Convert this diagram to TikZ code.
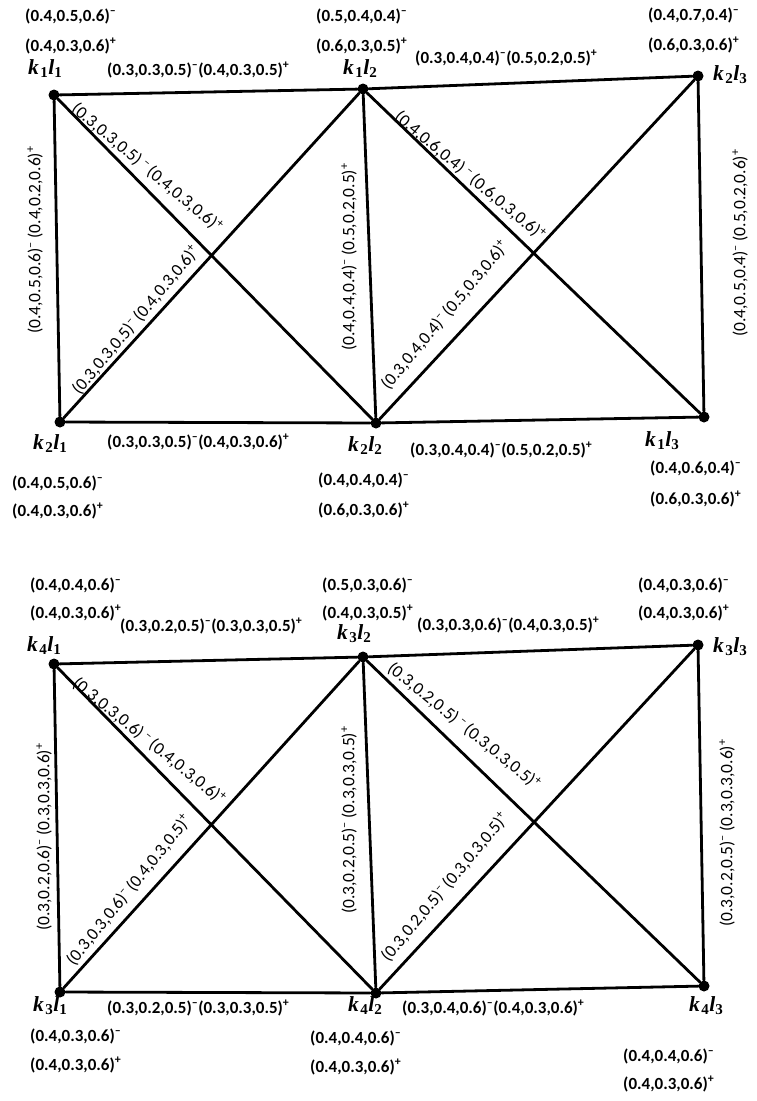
\documentclass[tikz,border=0pt]{standalone}
\usepackage{fontspec}
\setmainfont{Carlito}
\newfontfamily\nodefont{Liberation Serif}
\newcommand{\SupM}{\textsuperscript{–}}
\newcommand{\SupP}{\textsuperscript{+}}
\newcommand{\KL}[2]{{\nodefont\bfseries\itshape k\kern1.5pt\textsubscript{\upshape #1}l\textsubscript{\upshape #2}}}
\begin{document}
\begin{tikzpicture}[x=1pt,y=-1pt,
  edge/.style={line width=2.8pt, line cap=round},
  dot/.style={circle, fill=black, inner sep=0pt, minimum size=11pt},
  lab/.style={font=\fontsize{17}{20}\selectfont\bfseries, anchor=base west, inner sep=0pt},
  elab/.style={font=\fontsize{17.5}{20}\selectfont, inner sep=0pt},
  vname/.style={font=\fontsize{21.5}{24}\selectfont, anchor=base west, inner sep=0pt}]
\useasboundingbox (0,0) rectangle (756,1101);

% ---------- top panel ----------
\node[dot] (a11) at (54,95) {};
\node[dot] (a12) at (363,89) {};
\node[dot] (a23) at (698,76) {};
\node[dot] (a21) at (60,422) {};
\node[dot] (a22) at (376,423) {};
\node[dot] (a13) at (704,417) {};

\draw[edge] (a11) -- (a12);
\draw[edge] (a12) -- (a23);
\draw[edge] (a21) -- (a22);
\draw[edge] (a22) -- (a13);
\draw[edge] (a11) -- (a21);
\draw[edge] (a12) -- (a22);
\draw[edge] (a23) -- (a13);
\draw[edge] (a11) -- (a22);
\draw[edge] (a21) -- (a12);
\draw[edge] (a12) -- (a13);
\draw[edge] (a22) -- (a23);

\node[lab] (t1) at (25,21) {(0.4,0.5,0.6)\SupM};
\node[lab] (t2) at (25,51) {(0.4,0.3,0.6)\SupP};
\node[vname] (n11) at (28,74) {\KL{1}{1}};
\node[lab] (e1) at (107,75) {(0.3,0.3,0.5)\SupM(0.4,0.3,0.5)\SupP};
\node[lab] (t3) at (316,21) {(0.5,0.4,0.4)\SupM};
\node[lab] (t4) at (316,51) {(0.6,0.3,0.5)\SupP};
\node[vname] (n12) at (343,74) {\KL{1}{2}};
\node[lab] (e2) at (415,63) {(0.3,0.4,0.4)\SupM(0.5,0.2,0.5)\SupP};
\node[lab] (t5) at (648,20) {(0.4,0.7,0.4)\SupM};
\node[lab] (t6) at (648,50) {(0.6,0.3,0.6)\SupP};
\node[vname] (n23) at (713,80) {\KL{2}{3}};

\node[vname] (n21) at (33,449) {\KL{2}{1}};
\node[lab] (e3) at (107,447) {(0.3,0.3,0.5)\SupM(0.4,0.3,0.6)\SupP};
\node[lab] (t7) at (12,488) {(0.4,0.5,0.6)\SupM};
\node[lab] (t8) at (12,516) {(0.4,0.3,0.6)\SupP};
\node[vname] (n22) at (348,451) {\KL{2}{2}};
\node[lab] (e4) at (410,455) {(0.3,0.4,0.4)\SupM(0.5,0.2,0.5)\SupP};
\node[lab] (t9) at (318,485) {(0.4,0.4,0.4)\SupM};
\node[lab] (t10) at (318,515) {(0.6,0.3,0.6)\SupP};
\node[vname] (n13) at (645,446) {\KL{1}{3}};
\node[lab] (t11) at (650,473) {(0.4,0.6,0.4)\SupM};
\node[lab] (t12) at (650,504) {(0.6,0.3,0.6)\SupP};

\node[elab, rotate=90] (v1) at (35,240) {(0.4,0.5,0.6)\SupM\,(0.4,0.2,0.6)\SupP};
\node[elab, rotate=90] (v2) at (349,257) {(0.4,0.4,0.4)\SupM\,(0.5,0.2,0.5)\SupP};
\node[elab, rotate=90] (v3) at (740,243) {(0.4,0.5,0.4)\SupM\,(0.5,0.2,0.6)\SupP};
\node[elab, rotate=-40] (d1) at (147,168) {(0.3,0.3,0.5)\,\SupM\,(0.4,0.3,0.6)\SupP};
\node[elab, rotate=50] (d2) at (136,320) {(0.3,0.3,0.5)\SupM\,(0.4,0.3,0.6)\SupP};
\node[elab, rotate=-40] (d3) at (470,176) {(0.4,0.6,0.4)\,\SupM\,(0.6,0.3,0.6)\SupP};
\node[elab, rotate=50] (d4) at (445,315) {(0.3,0.4,0.4)\SupM\,(0.5,0.3,0.6)\SupP};

% ---------- bottom panel ----------
\node[dot] (b41) at (54,664) {};
\node[dot] (b32) at (363,657) {};
\node[dot] (b33) at (698,645) {};
\node[dot] (b31) at (60,992) {};
\node[dot] (b42) at (376,993) {};
\node[dot] (b43) at (704,986) {};

\draw[edge] (b41) -- (b32);
\draw[edge] (b32) -- (b33);
\draw[edge] (b31) -- (b42);
\draw[edge] (b42) -- (b43);
\draw[edge] (b41) -- (b31);
\draw[edge] (b32) -- (b42);
\draw[edge] (b33) -- (b43);
\draw[edge] (b41) -- (b42);
\draw[edge] (b31) -- (b32);
\draw[edge] (b32) -- (b43);
\draw[edge] (b42) -- (b33);

\node[lab] (s1) at (30,590) {(0.4,0.4,0.6)\SupM};
\node[lab] (s2) at (30,618) {(0.4,0.3,0.6)\SupP};
\node[vname] (m41) at (27,651) {\KL{4}{1}};
\node[lab] (f1) at (120,631) {(0.3,0.2,0.5)\SupM(0.3,0.3,0.5)\SupP};
\node[lab] (s3) at (322,590) {(0.5,0.3,0.6)\SupM};
\node[lab] (s4) at (322,618) {(0.4,0.3,0.5)\SupP};
\node[vname] (m32) at (337,639) {\KL{3}{2}};
\node[lab] (f2) at (417,630) {(0.3,0.3,0.6)\SupM(0.4,0.3,0.5)\SupP};
\node[lab] (s5) at (638,590) {(0.4,0.3,0.6)\SupM};
\node[lab] (s6) at (638,618) {(0.4,0.3,0.6)\SupP};
\node[vname] (m33) at (713,652) {\KL{3}{3}};

\node[vname] (m31) at (33,1011) {\KL{3}{1}};
\node[lab] (f3) at (107,1013) {(0.3,0.2,0.5)\SupM(0.3,0.3,0.5)\SupP};
\node[lab] (s7) at (30,1041) {(0.4,0.3,0.6)\SupM};
\node[lab] (s8) at (30,1070) {(0.4,0.3,0.6)\SupP};
\node[vname] (m42) at (348,1011) {\KL{4}{2}};
\node[lab] (f4) at (402,1013) {(0.3,0.4,0.6)\SupM(0.4,0.3,0.6)\SupP};
\node[lab] (s9) at (310,1043) {(0.4,0.4,0.6)\SupM};
\node[lab] (s10) at (310,1072) {(0.4,0.3,0.6)\SupP};
\node[vname] (m43) at (689,1011) {\KL{4}{3}};
\node[lab] (s11) at (623,1061) {(0.4,0.4,0.6)\SupM};
\node[lab] (s12) at (623,1089) {(0.4,0.3,0.6)\SupP};

\node[elab, rotate=90] (w1) at (44,837) {(0.3,0.2,0.6)\SupM\,(0.3,0.3,0.6)\SupP};
\node[elab, rotate=90] (w2) at (349,820) {(0.3,0.2,0.5)\SupM\,(0.3,0.3,0.5)\SupP};
\node[elab, rotate=90] (w3) at (727,833) {(0.3,0.2,0.5)\SupM\,(0.3,0.3,0.6)\SupP};
\node[elab, rotate=-39] (g1) at (149,741) {(0.3,0.3,0.6)\,\SupM\,(0.4,0.3,0.6)\SupP};
\node[elab, rotate=51] (g2) at (129,890) {(0.3,0.3,0.6)\SupM\,(0.4,0.3,0.5)\SupP};
\node[elab, rotate=-39] (g3) at (464,726) {(0.3,0.2,0.5)\,\SupM\,(0.3,0.3,0.5)\SupP};
\node[elab, rotate=50] (g4) at (445,887) {(0.3,0.2,0.5)\SupM\,(0.3,0.3,0.5)\SupP};
\end{tikzpicture}
\end{document}
